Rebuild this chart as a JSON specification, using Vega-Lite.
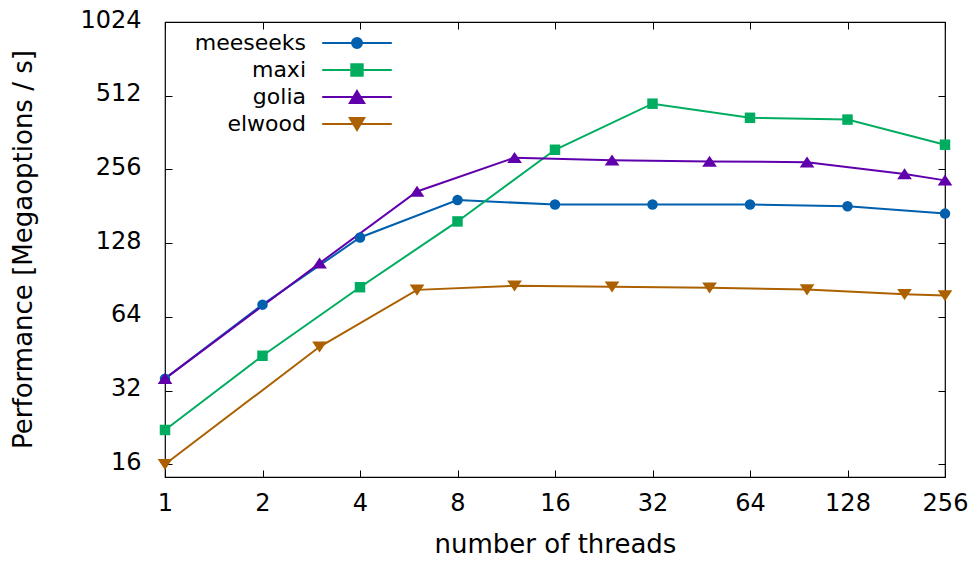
{
  "$schema": "https://vega.github.io/schema/vega-lite/v6.json",
  "width": 780,
  "height": 455,
  "autosize": {"type": "none"},
  "padding": {"left": 165, "top": 22, "right": 29, "bottom": 86},
  "background": "white",
  "config": {
    "view": {"stroke": "#000", "strokeWidth": 1.2},
    "axis": {"grid": false, "domain": false, "tickColor": "#000", "tickWidth": 1, "labelColor": "#000", "titleColor": "#000", "labelFont": "DejaVu Sans", "titleFont": "DejaVu Sans", "titleFontWeight": "normal"},
    "legend": {
      "orient": "none", "legendX": 181, "legendY": 10, "title": null,
      "labelFontSize": 22, "labelFont": "DejaVu Sans", "labelColor": "#000",
      "labelAlign": "right", "labelOffset": -62, "symbolSize": 144, "rowPadding": 5, "symbolStrokeWidth": 2
    }
  },
  "data": {
    "values": [
      {"series": "meeseeks", "threads": 1, "perf": 35.8},
      {"series": "meeseeks", "threads": 2, "perf": 71.8},
      {"series": "meeseeks", "threads": 4, "perf": 135},
      {"series": "meeseeks", "threads": 8, "perf": 192},
      {"series": "meeseeks", "threads": 16, "perf": 184},
      {"series": "meeseeks", "threads": 32, "perf": 184},
      {"series": "meeseeks", "threads": 64, "perf": 184},
      {"series": "meeseeks", "threads": 128, "perf": 181},
      {"series": "meeseeks", "threads": 256, "perf": 169},
      {"series": "maxi", "threads": 1, "perf": 22.1},
      {"series": "maxi", "threads": 2, "perf": 44.4},
      {"series": "maxi", "threads": 4, "perf": 84.6},
      {"series": "maxi", "threads": 8, "perf": 157},
      {"series": "maxi", "threads": 16, "perf": 308},
      {"series": "maxi", "threads": 32, "perf": 475},
      {"series": "maxi", "threads": 64, "perf": 416},
      {"series": "maxi", "threads": 128, "perf": 409},
      {"series": "maxi", "threads": 256, "perf": 323},
      {"series": "golia", "threads": 1, "perf": 35.8},
      {"series": "golia", "threads": 3, "perf": 106},
      {"series": "golia", "threads": 6, "perf": 208},
      {"series": "golia", "threads": 12, "perf": 286},
      {"series": "golia", "threads": 24, "perf": 279},
      {"series": "golia", "threads": 48, "perf": 276},
      {"series": "golia", "threads": 96, "perf": 274},
      {"series": "golia", "threads": 192, "perf": 245},
      {"series": "golia", "threads": 256, "perf": 231},
      {"series": "elwood", "threads": 1, "perf": 16.0},
      {"series": "elwood", "threads": 3, "perf": 48.3},
      {"series": "elwood", "threads": 6, "perf": 82.5},
      {"series": "elwood", "threads": 12, "perf": 85.8},
      {"series": "elwood", "threads": 24, "perf": 85.0},
      {"series": "elwood", "threads": 48, "perf": 84.2},
      {"series": "elwood", "threads": 96, "perf": 82.7},
      {"series": "elwood", "threads": 192, "perf": 79.2},
      {"series": "elwood", "threads": 256, "perf": 78.2}
    ]
  },
  "layer": [
    {
      "mark": {"type": "line", "strokeWidth": 2},
      "encoding": {
        "x": {"field": "threads", "type": "quantitative",
          "scale": {"type": "log", "base": 2, "domain": [1, 256], "nice": false},
          "axis": {"orient": "bottom", "values": [1, 2, 4, 8, 16, 32, 64, 128, 256], "format": "d", "tickSize": -7, "labelPadding": 21, "labelFontSize": 24, "labelFlush": false, "labelOverlap": false, "title": "number of threads", "titleFontSize": 26, "titleX": 390, "titleY": 67, "titleBaseline": "middle", "titleAlign": "center"}},
        "y": {"field": "perf", "type": "quantitative",
          "scale": {"type": "log", "base": 2, "domain": [14.2, 1024], "nice": false},
          "axis": {"orient": "left", "values": [16, 32, 64, 128, 256, 512, 1024], "format": "d", "tickSize": -7, "labelPadding": 31, "labelFontSize": 24, "labelOffset": -2, "labelFlush": false, "labelOverlap": false, "title": "Performance [Megaoptions / s]", "titleFontSize": 26, "titleX": -142, "titleY": 227, "titleBaseline": "middle", "titleAlign": "center", "titleAngle": -90}},
        "color": {"field": "series", "type": "nominal",
          "scale": {"domain": ["meeseeks", "maxi", "golia", "elwood"], "range": ["#0060ad", "#00ad60", "#6000ad", "#ad6000"]},
          "legend": {
            "encode": {"symbols": {"update": {
              "shape": {"signal": "datum.value === 'meeseeks' ? 'M-5.8,0H5.8M0.83,0A0.83,0.83,0,1,1,-0.83,0A0.83,0.83,0,1,1,0.83,0Z' : datum.value === 'maxi' ? 'M-5.8,0H5.8M-0.95,-0.95H0.95V0.95H-0.95Z' : datum.value === 'golia' ? 'M-5.8,0H5.8M0,-1L1.2,1H-1.2Z' : 'M-5.8,0H5.8M0,1L1.2,-1H-1.2Z'"},
              "stroke": {"signal": "datum.value === 'meeseeks' ? '#0060ad' : datum.value === 'maxi' ? '#00ad60' : datum.value === 'golia' ? '#6000ad' : '#ad6000'"},
              "fill": {"signal": "datum.value === 'meeseeks' ? '#0060ad' : datum.value === 'maxi' ? '#00ad60' : datum.value === 'golia' ? '#6000ad' : '#ad6000'"},
              "strokeWidth": {"value": 2},
              "size": {"value": 144},
              "opacity": {"value": 1}
            }}}
          }}
      }
    },
    {
      "mark": {"type": "point", "filled": true, "opacity": 1, "size": 110},
      "encoding": {
        "x": {"field": "threads", "type": "quantitative", "axis": null},
        "y": {"field": "perf", "type": "quantitative", "axis": null},
        "color": {"field": "series", "type": "nominal"},
        "shape": {"field": "series", "type": "nominal",
          "scale": {"domain": ["elwood", "golia", "maxi", "meeseeks"], "range": ["M0,1.1L1.4,-1H-1.4Z", "M0,-1.1L1.4,1H-1.4Z", "square", "circle"]},
          "legend": null}
      }
    },
    {
      "mark": {"type": "point", "opacity": 0},
      "encoding": {
        "x": {"field": "threads", "type": "quantitative",
          "axis": {"orient": "top", "values": [1, 2, 4, 8, 16, 32, 64, 128, 256], "tickSize": -7, "labels": false, "title": null}},
        "y": {"field": "perf", "type": "quantitative",
          "axis": {"orient": "right", "values": [16, 32, 64, 128, 256, 512, 1024], "tickSize": -7, "labels": false, "title": null}}
      }
    }
  ],
  "resolve": {"axis": {"x": "independent", "y": "independent"}}
}
